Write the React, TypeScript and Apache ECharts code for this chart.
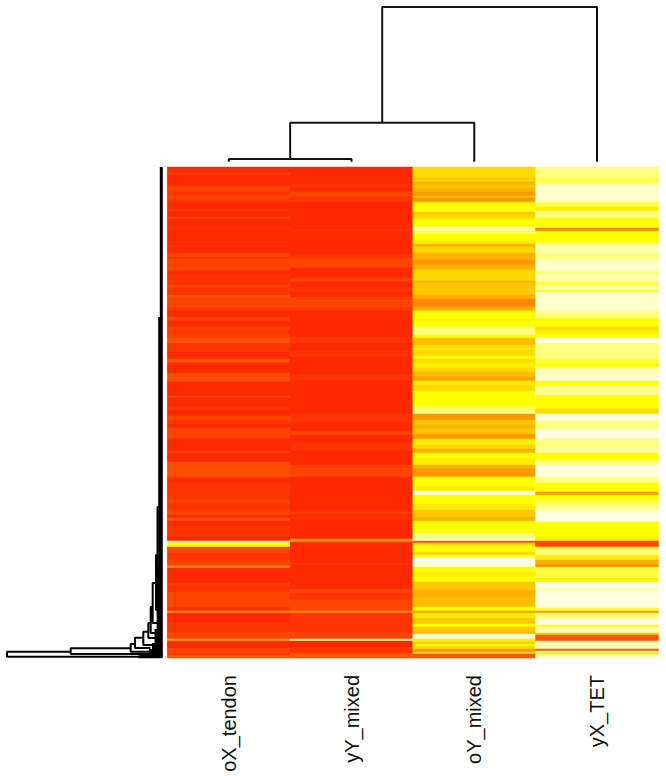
import React, { useEffect, useRef } from "react";
import * as echarts from "echarts";

const samples = ["oX_tendon", "yY_mixed", "oY_mixed", "yX_TET"];
const rowCount = 491;

// Colour levels of the heat scale, low to high index
const heatColors = [
  "#ff2a00", "#ff3500", "#ff4400", "#ff5500", "#ff8000", "#ff9900", "#ffb000", "#ffc800",
  "#ffd900", "#ffee00", "#ffff00", "#ffff40", "#ffff80", "#ffffb0", "#ffffdd",
];

// Each pair: [row where the band ends, level of the band]
const oXTendon = [
  [6,0],[8,2],[19,0],[24,2],[28,1],[32,2],[36,1],[42,0],[44,1],[50,0],[52,2],[60,0],[63,1],[79,0],[80,1],[86,0],[90,2],[92,1],[104,2],[108,0],[118,1],[121,2],[128,1],[131,3],[141,2],[144,1],[150,0],[154,2],[160,0],[163,2],
  [167,1],[172,2],[176,3],[185,1],[192,0],[196,3],[206,0],[215,2.5],[229,0],[231,2],[240,0],[243,1],[249,0],[253,2],[257,1],[261,0],[272,2],[284,0],[286,2],[295,0],[310,2.6],[312,1],[316,0],[333,1],
  [337,2],[343,1],[348,2],[351,0],[354,3],[359,0],[370,1],[374,0],[376,13],[380,10],[386,2],[393,1],[399,2],[401,5],[416,0],[418,2],[425,1],[429,2],[440,2],[444,1],[446,5],[456,0],[465,1],[472,2],[474,6],[481,0],[486,2],[488,1],[491,3],
];
const yYMixed = [
  [17,0],[21,1],[25,0],[30,2],[35,1],[63,0],[64,1],[88,0],[91,1],[101,2],[111,0],[115,2],[120,0],[125,1],[130,0],[141,2],[144,1],[170,0],[176,1],[184,0],[190,1],[208,0],[213,1],[247,0],[255,1],[264,0],[268,2],[276,0],[284,1],[298,0],[310,2],[333,0],
  [345,0],[347,2],[350,0],[353,1],[372,0],[375,5],[376,1],[396,0],[398,1],[422,0],[426,2],[433,1],[444,2],[446,5],[465,1],[472,2],[474,13],[481,0],[486,1],[491,3],
];
const oYMixed = [
  [11,8],[13,7],[15,8],[18,6],[21,7],[25,6],[29,5],[31,7],[35,5],[37,9],[45,10],[48,7],[52,8],[60,10],[64,13],[67,11],[73,10],[77,9],[80,6],[86,8],[93,6],[98,5],[103,6],[114,8],[116,6],[128,7],[132,6],[140,4.3],[144,6],[152,10],[154,9],[160,10],[163,12],
  [168,12],[171,10],[178,6.5],[181,8],[183,9],[189,8],[192,10],[196,8],[201,9],[205,8],[210,6.5],[214,5.5],[218,9],[224,8],[239,10],[242,11],[247,12],[253,5],[258,7],[262,6],[267,7],[272,5],[278,9],[282,8],[286,6],[291,10],[298,9],[302,6],[310,5],[320,10],[324,9],[328,14],[333,10],
  [337,10],[343,9],[350,7],[354,6],[366,10],[372,12],[374,14],[376,3],[379,8],[385,10],[388,8],[391,11],[400,14],[405,10],[410,9],[415,10],[423,7],[430,6],[440,6.5],[444,10],[446,5],[451,9],[457,7],[460,10],[465,7],[467,6],[472,14],[475,9],[477,7],[479,10],[482,8],[485,5],[487,8],[491,3],
];
const yXTet = [
  [11,12],[15,11],[18,12],[35,13.6],[40,11],[44,9],[51,12],[61,10],[64,4],[73,10],[77,10.5],[86,13],[93,12],[104,13.6],[108,12],[115,13],[119,11],[123,13],[125,10],[144,13.6],[151,12],[160,10],[163,8],
  [167,9],[171,10],[176,14],[192,12],[196,11],[200,10],[208,13],[214,14],[218,10],[225,12],[228,13],[242,10],[247,8],[254,14],[262,12],[272,14],[282,12],[286,13],[293,10],[298,12],[310,14],[316,12],[325,10],[328,5],[333,10],
  [337,11],[343,12],[355,14],[370,10],[374,9],[380,2],[383,11],[388,12],[393,9],[398,6],[400,4],[411,11],[415,9],[421,14],[424,13],[441,14],[444,11],[446,5],[452,12],[458,14],[460,10],[466,13],[468,7],[474,3],[482,13],[484,3],[486,13],[488,9],[491,14],
];
const bands = [oXTendon, yYMixed, oYMixed, yXTet];

// Sample tree: [height, left position, right position, left child height, right child height]
const sampleMerges = [
  [2.7, 0.5, 1.5, 0, 0],
  [39, 1, 2.5, 2.7, 0],
  [154.7, 1.75, 3.5, 39, 0],
];
// Gene tree: [height, top row, bottom row, top child height, bottom child height]
const geneMerges = [
  [155.5, 484.7, 489.7, 91.8, 10],
  [91.8, 481.3, 487, 31.8, 20],
  [31.8, 477, 484.7, 27.5, 10],
  [27.5, 470.7, 481, 19.2, 12],
  [19.2, 464.7, 478, 14.2, 8],
  [14.2, 456, 471, 11.8, 6],
  [11.8, 440, 466, 9.8, 5],
  [9.8, 416, 456, 6.5, 4],
  [6.5, 388, 443, 5, 3],
  [5, 340, 423, 3.5, 2],
  [6, 429, 443, 2, 2],
];
// Dense leaf-level branches: [height, top row, bottom row]
const geneTrunk = [
  [1.2, 0, 490],
  [2.8, 150, 490],
  [4.4, 400, 490],
  [6.5, 462, 490],
  [9, 476, 490],
  [12, 482, 490],
];
const geneBase = [
  [22, 487.5, 0],
  [24, 489.7, 0],
];

const heatData: number[][] = [];
bands.forEach((runs, col) => {
  let row = 0;
  runs.forEach(([end, level]) => {
    for (; row < end && row < rowCount; row++) heatData.push([col, row, level]);
  });
});

const breakPoint = ["-", "-"];
const sampleLine: any[] = [];
sampleMerges.forEach(([h, a, b, ha, hb]) => {
  sampleLine.push([a, ha], [a, h], [b, h], [b, hb], breakPoint);
});
const geneLine: any[] = [];
geneMerges.forEach(([h, a, b, ha, hb]) => {
  geneLine.push([ha, a], [h, a], [h, b], [hb, b], breakPoint);
});
const trunkLine: any[] = [];
geneTrunk.forEach(([h, a, b]) => {
  trunkLine.push([h, a], [h, b], breakPoint);
});
const baseLine: any[] = [];
geneBase.forEach(([h, r, h2]) => {
  baseLine.push([h, r], [h2, r], breakPoint);
});

export default function App() {
  const ref = useRef<HTMLDivElement>(null);
  useEffect(() => {
    const chart = echarts.init(ref.current!, undefined, { renderer: "svg" });
    const hiddenValue = { type: "value", show: false, splitLine: { show: false } };
    chart.setOption({
      animation: false,
      backgroundColor: "#ffffff",
      grid: [
        { left: 167.4, top: 167, width: 491, height: rowCount },
        { left: 167.4, top: 7, width: 491, height: 154.7 },
        { left: 7, top: 167, width: 155.5, height: rowCount },
      ],
      xAxis: [
        {
          type: "category",
          gridIndex: 0,
          data: samples,
          axisLine: { show: false },
          axisTick: { show: false },
          splitLine: { show: false },
          axisLabel: {
            rotate: 90,
            margin: 17,
            fontFamily: "Liberation Sans",
            fontSize: 20,
            color: "#111111",
          },
        },
        { ...hiddenValue, gridIndex: 1, min: 0, max: 4 },
        { ...hiddenValue, gridIndex: 2, min: 0, max: 155.5, inverse: true },
      ],
      yAxis: [
        {
          type: "category",
          gridIndex: 0,
          inverse: true,
          show: false,
          data: Array.from({ length: rowCount }, (_, i) => String(i)),
        },
        { ...hiddenValue, gridIndex: 1, min: 0, max: 154.7 },
        { ...hiddenValue, gridIndex: 2, min: 0, max: rowCount, inverse: true },
      ],
      visualMap: {
        show: false,
        type: "continuous",
        seriesIndex: 0,
        dimension: 2,
        min: 0,
        max: heatColors.length - 1,
        inRange: { color: heatColors },
      },
      series: [
        {
          type: "heatmap",
          xAxisIndex: 0,
          yAxisIndex: 0,
          data: heatData,
          itemStyle: { borderWidth: 0 },
          emphasis: { disabled: true },
          progressive: 0,
        },
        {
          type: "line",
          xAxisIndex: 1,
          yAxisIndex: 1,
          data: sampleLine,
          showSymbol: false,
          lineStyle: { color: "#111111", width: 2 },
          silent: true,
        },
        {
          type: "line",
          xAxisIndex: 2,
          yAxisIndex: 2,
          data: geneLine,
          showSymbol: false,
          lineStyle: { color: "#000000", width: 2 },
          silent: true,
        },
        {
          type: "line",
          xAxisIndex: 2,
          yAxisIndex: 2,
          data: trunkLine,
          showSymbol: false,
          lineStyle: { color: "#000000", width: 3 },
          silent: true,
        },
        {
          type: "line",
          xAxisIndex: 2,
          yAxisIndex: 2,
          data: baseLine,
          showSymbol: false,
          lineStyle: { color: "#000000", width: 3 },
          silent: true,
        },
      ],
    });
    return () => chart.dispose();
  }, []);
  return (
    <div
      ref={ref}
      style={{ position: "absolute", left: 0, top: 0, width: 666, height: 776, background: "#fff" }}
    />
  );
}
